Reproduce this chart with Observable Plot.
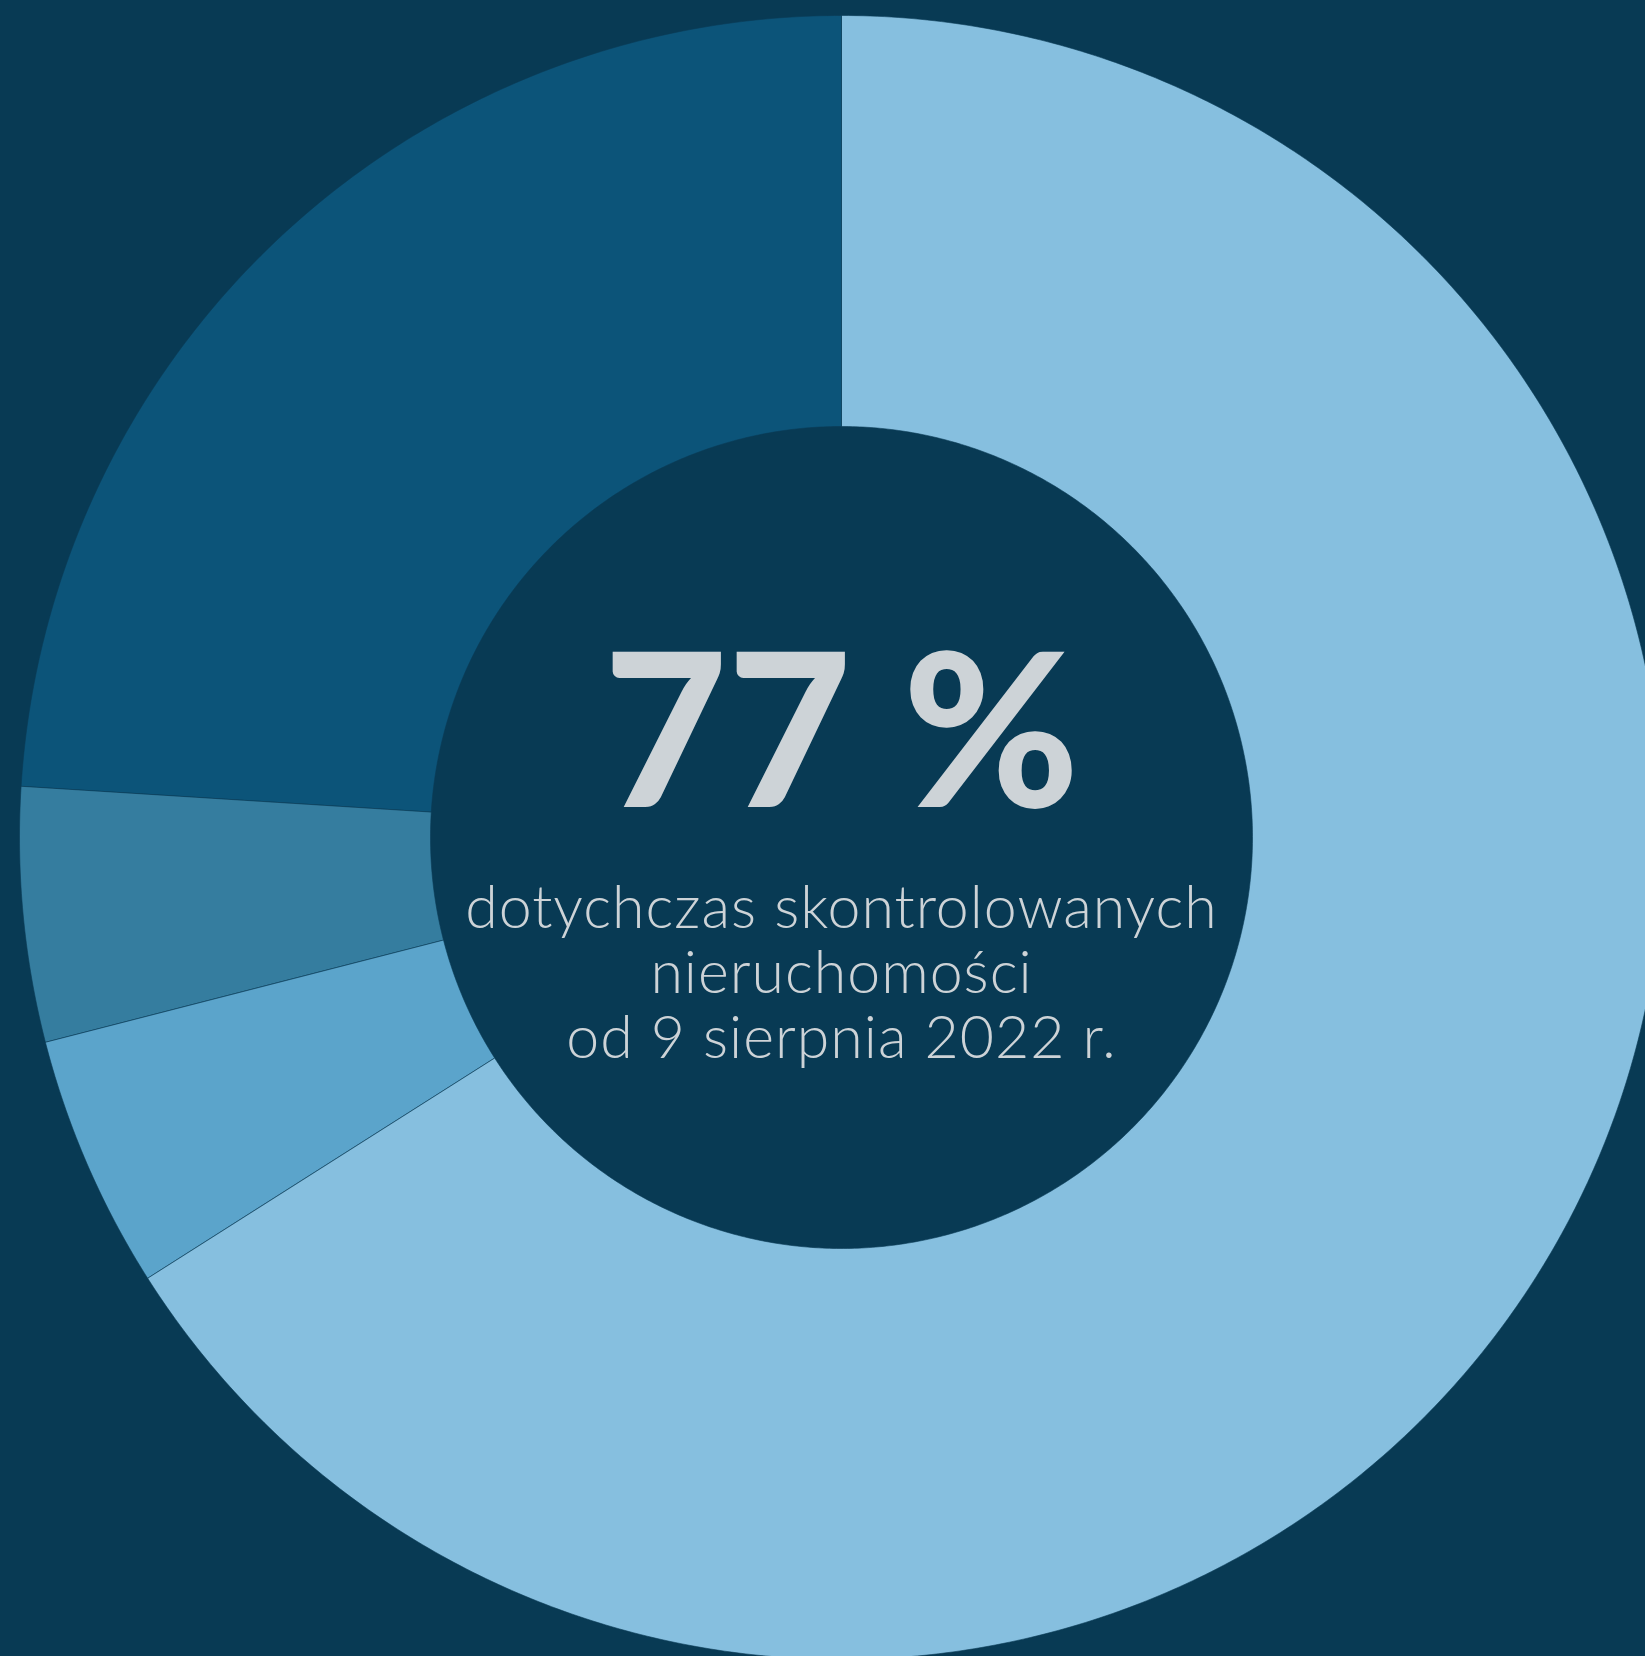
<!DOCTYPE html>
<html><head><meta charset="utf-8">
<script src="https://cdn.jsdelivr.net/npm/d3@7"></script>
<script src="https://cdn.jsdelivr.net/npm/@observablehq/plot@0.6"></script>
<style>
html,body{margin:0;padding:0;background:#083a54;overflow:hidden}
#chart svg{display:block}
</style>
</head><body><div id="chart"></div>
<script>
// Slice categories (clockwise from 12 o'clock) and their shares
const categories = ["Udział 1", "Udział 2", "Udział 3", "Udział 4"];
const values = [66.0, 5.0, 5.0, 24.0];
const colors = ["#86bfdf", "#5ba4cb", "#357d9f", "#0c5479"];
const headline = ["77 %"];
const captionLines = ["dotychczas skontrolowanych", "nieruchomości", "od 9 sierpnia 2022 r."];

const W = 1645, H = 1656;
const cx = 841, cy = 837, R = 822;
const innerRatio = 0.5;

// Build ring slice outlines from the values via d3.pie (angles clockwise from top)
const arcs = d3.pie().sort(null).value(d => d)(values);
const pts = [];
arcs.forEach((a, i) => {
  const n = Math.max(4, Math.ceil((a.endAngle - a.startAngle) / (Math.PI / 360)));
  for (let k = 0; k <= n; k++) {
    const t = a.startAngle + (a.endAngle - a.startAngle) * k / n;
    pts.push({cat: categories[i], x: Math.sin(t), y: Math.cos(t)});
  }
  for (let k = n; k >= 0; k--) {
    const t = a.startAngle + (a.endAngle - a.startAngle) * k / n;
    pts.push({cat: categories[i], x: innerRatio * Math.sin(t), y: innerRatio * Math.cos(t)});
  }
});

const chart = Plot.plot({
  width: W, height: H,
  margin: 0,
  style: {background: "#083a54", overflow: "hidden"},
  x: {domain: [-1, 1], range: [cx - R, cx + R], axis: null},
  y: {domain: [-1, 1], range: [cy + R, cy - R], axis: null},
  color: {domain: categories, range: colors},
  marks: [
    Plot.line(pts, {x: "x", y: "y", z: "cat", fill: "cat", stroke: "#0a3a55", strokeWidth: 1, strokeOpacity: 0.6, curve: "linear-closed"}),
    Plot.text(headline, {x: () => 0, y: () => 0, text: d => d, dy: -31, lineAnchor: "bottom",
      fontFamily: "Lato", fontWeight: 900, fontSize: 214, fill: "#cdd3d7"}),
    Plot.text([captionLines.join("\n")], {x: () => 0, y: () => 0, text: d => d, dy: 220, lineAnchor: "bottom",
      lineHeight: 65 / 59, fontFamily: "Lato", fontWeight: 300, fontSize: 59, fill: "#cdd3d7"})
  ]
});
const textGroups = chart.querySelectorAll('g[aria-label="text"]');
if (textGroups[1]) textGroups[1].setAttribute("letter-spacing", "1");
document.getElementById("chart").appendChild(chart);
</script>
</body></html>
